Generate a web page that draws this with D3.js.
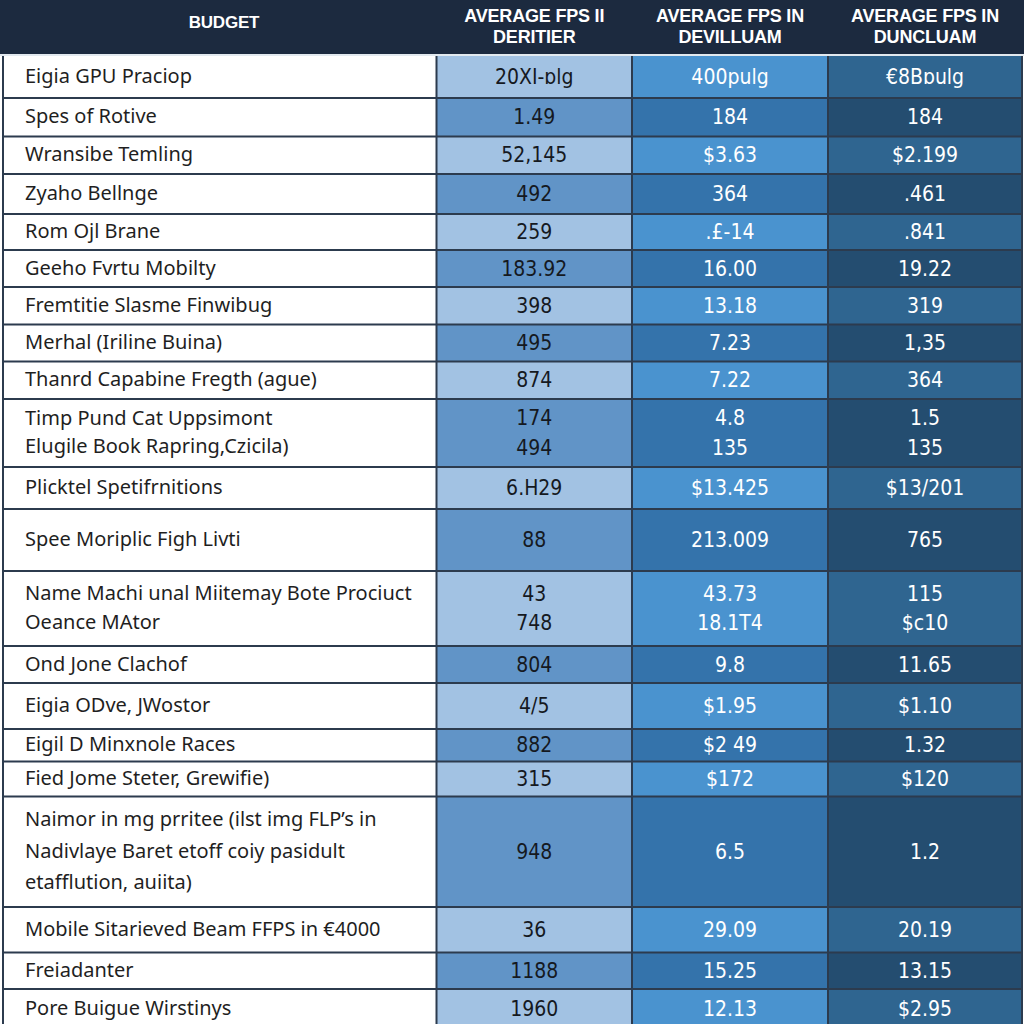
<!DOCTYPE html>
<html>
<head>
<meta charset="utf-8">
<script src="https://cdn.jsdelivr.net/npm/d3@7"></script>
<style>
  html, body { margin: 0; padding: 0; background: #ffffff; }
  svg { display: block; }
</style>
</head>
<body>
<svg id="chart" width="1024" height="1024"></svg>
<script>
// ---------- data ----------
const headerLabels = ["BUDGET", "AVERAGE FPS II\nDERITIER", "AVERAGE FPS IN\nDEVILLUAM", "AVERAGE FPS IN\nDUNCLUAM"];

const categories = [
  "Eigia GPU Praciop",
  "Spes of Rotive",
  "Wransibe Temling",
  "Zyaho Bellnge",
  "Rom Ojl Brane",
  "Geeho Fvrtu Mobilty",
  "Fremtitie Slasme Finwibug",
  "Merhal (Iriline Buina)",
  "Thanrd Capabine Fregth (ague)",
  "Timp Pund Cat Uppsimont\nElugile Book Rapring,Czicila)",
  "Plicktel Spetifrnitions",
  "Spee Moriplic Figh Livti",
  "Name Machi unal Miitemay Bote Prociuct\nOeance MAtor",
  "Ond Jone Clachof",
  "Eigia ODve, JWostor",
  "Eigil D Minxnole Races",
  "Fied Jome Steter, Grewifie)",
  "Naimor in mg prritee (ilst img FLP’s in\nNadivlaye Baret etoff coiy pasidult\netafflution, auiita)",
  "Mobile Sitarieved Beam FFPS in €4000",
  "Freiadanter",
  "Pore Buigue Wirstinys"
];

const seriesDeritier = ["20XI-ɒlg", "1.49", "52,145", "492", "259", "183.92", "398", "495", "874",
  "174\n494", "6.H29", "88", "43\n748", "804", "4/5", "882", "315", "948", "36", "1188", "1960"];

const seriesDevilluam = ["400pulg", "184", "$3.63", "364", ".£-14", "16.00", "13.18", "7.23", "7.22",
  "4.8\n135", "$13.425", "213.009", "43.73\n18.1T4", "9.8", "$1.95", "$2 49", "$172", "6.5", "29.09", "15.25", "12.13"];

const seriesDuncluam = ["€8Bɒulg", "184", "$2.199", ".461", ".841", "19.22", "319", "1,35", "364",
  "1.5\n135", "$13/201", "765", "115\n$c10", "11.65", "$1.10", "1.32", "$120", "1.2", "20.19", "13.15", "$2.95"];

// ---------- layout ----------
const rowEdges = [56, 98, 136.5, 174, 214, 250, 287, 324.5, 361.5, 399, 467, 509, 571, 646, 683, 729, 761.5, 796.5, 907, 952.5, 989, 1028];
const colEdges = [3, 436.5, 632, 828, 1022];

const bandFill = [
  ["#ffffff", "#ffffff"],          // label column: [even, odd]
  ["#a2c2e3", "#6194c7"],          // col1
  ["#4a93cf", "#3473ab"],          // col2
  ["#2f6590", "#244d70"]           // col3
];

const svg = d3.select("#chart");

const y = d3.scaleLinear().domain(d3.range(rowEdges.length)).range(rowEdges);
const x = d3.scaleLinear().domain(d3.range(colEdges.length)).range(colEdges);

// header
svg.append("rect").attr("x", 0).attr("y", 0).attr("width", 1024).attr("height", 54).attr("fill", "#1c2a3f");

const headerG = svg.append("g");
headerLabels.forEach((h, c) => {
  const lines = h.split("\n");
  const cx = c === 0 ? 224 : (x(c) + x(c + 1)) / 2;
  const t = headerG.append("text")
    .attr("x", cx)
    .attr("text-anchor", "middle")
    .attr("fill", "#ffffff")
    .attr("font-family", "'Liberation Sans', Arial, sans-serif")
    .attr("font-weight", "bold")
    .attr("font-size", c === 0 ? 17 : 18)
    .style("letter-spacing", "-0.2px");
  if (lines.length === 1) {
    t.attr("y", 22).attr("dominant-baseline", "central").text(lines[0]);
  } else {
    lines.forEach((l, i) => {
      t.append("tspan").attr("x", cx).attr("y", 15.5 + i * 21).attr("dominant-baseline", "central").text(l);
    });
  }
});

// rows
const rows = categories.map((cat, i) => ({
  i, cells: [cat, seriesDeritier[i], seriesDevilluam[i], seriesDuncluam[i]]
}));

const rowG = svg.append("g").selectAll("g").data(rows).join("g");

rowG.each(function(r) {
  const g = d3.select(this);
  const y0 = y(r.i), y1 = y(r.i + 1);
  const cy = (y0 + y1) / 2;
  r.cells.forEach((val, c) => {
    g.append("rect")
      .attr("x", x(c)).attr("y", y0)
      .attr("width", x(c + 1) - x(c)).attr("height", y1 - y0)
      .attr("fill", bandFill[c][r.i % 2]);
    const lines = val.split("\n");
    const lh = lines.length === 3 ? 31.5 : (c === 0 ? 28.5 : 29.5);
    const t = g.append("text")
      .attr("fill", c === 0 ? "#1f1f1f" : (c === 1 ? "#15191f" : "#ffffff"));
    if (c === 0) {
      t.attr("font-family", "'Noto Sans', 'Open Sans', sans-serif")
        .attr("font-size", 20);
    } else {
      t.attr("text-anchor", "middle")
        .attr("font-family", "'Liberation Sans Narrow', 'DejaVu Sans Condensed', sans-serif")
        .attr("font-size", 21);
    }
    const dy = c === 0 ? -1.5 : 0;
    lines.forEach((l, k) => {
      t.append("tspan")
        .attr("x", c === 0 ? 25 : (x(c) + x(c + 1)) / 2)
        .attr("y", cy + dy + (k - (lines.length - 1) / 2) * lh)
        .attr("dominant-baseline", "central")
        .text(l);
    });
  });
});

// grid lines
const gridG = svg.append("g").attr("stroke", "#2c3b4e").attr("stroke-width", 2);
rowEdges.slice(0, -1).forEach((e, k) => {
  if (k === 0) return;
  gridG.append("line").attr("x1", x(0)).attr("x2", x(4)).attr("y1", y(k)).attr("y2", y(k));
});
d3.range(colEdges.length).forEach(k => {
  gridG.append("line").attr("x1", x(k)).attr("x2", x(k)).attr("y1", y(0)).attr("y2", 1024);
});
// thin light line under header
svg.append("line").attr("x1", 0).attr("x2", 1024).attr("y1", 55).attr("y2", 55)
  .attr("stroke", "#d9e2ea").attr("stroke-width", 1.5);
</script>
</body>
</html>
